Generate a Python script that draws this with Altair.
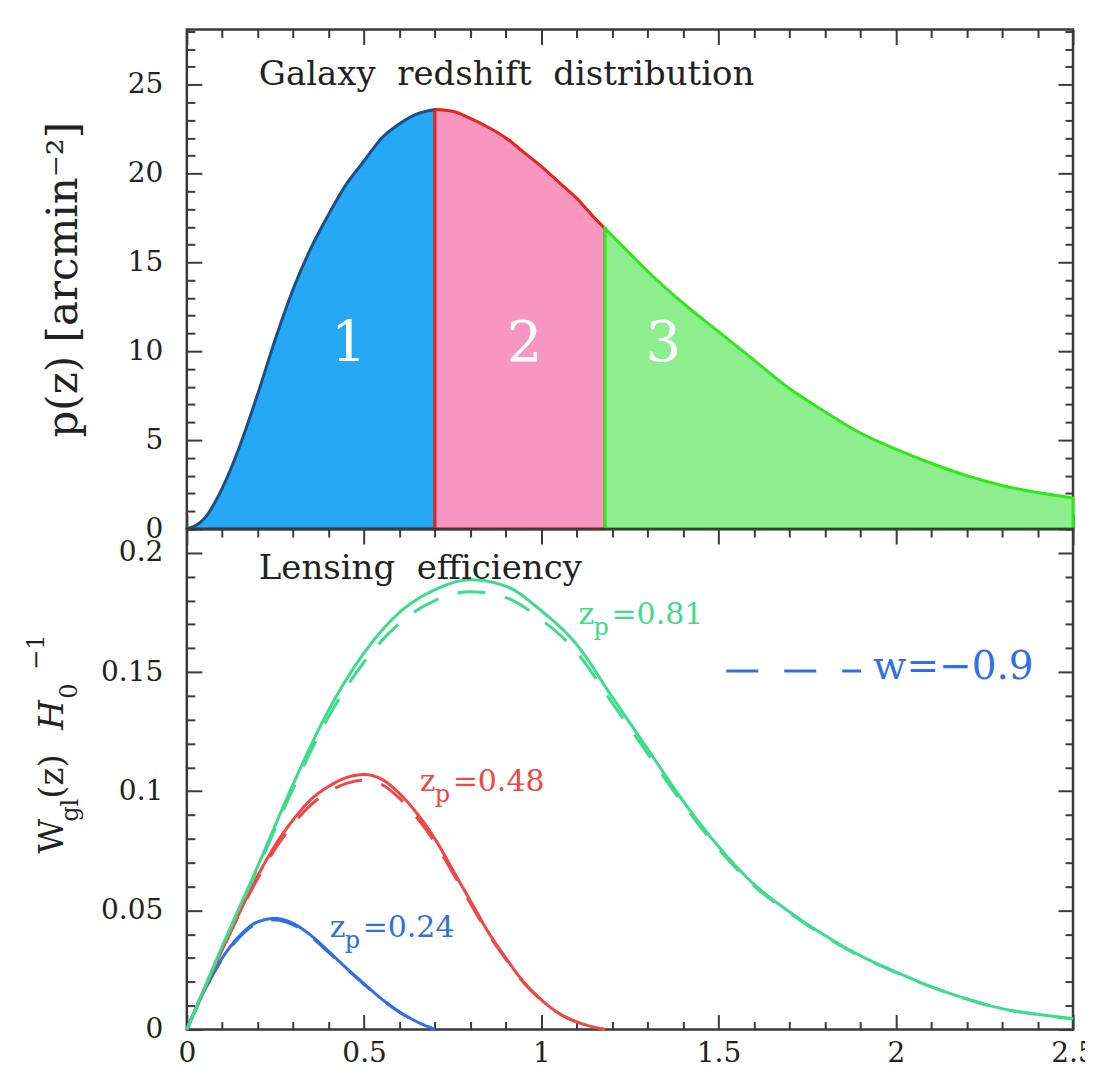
import altair as alt
import pandas as pd

# ---------------- data ----------------
# top panel: galaxy redshift distribution p(z)
z_top = [0, 0.05, 0.1, 0.15, 0.2, 0.25, 0.3, 0.35, 0.4, 0.45, 0.5, 0.55, 0.6, 0.65, 0.7,
         0.75, 0.8, 0.85, 0.9, 0.95, 1.0, 1.05, 1.1, 1.15, 1.18,
         1.25, 1.3, 1.4, 1.5, 1.6, 1.7, 1.8, 1.9, 2.0, 2.1, 2.2, 2.3, 2.4, 2.5]
p_top = [0, 0.6, 2.3, 4.7, 7.6, 10.7, 13.5, 15.8, 17.7, 19.4, 20.7, 22.0, 22.8, 23.35, 23.6,
         23.5, 23.1, 22.6, 22.0, 21.2, 20.4, 19.5, 18.6, 17.5, 16.9,
         15.5, 14.5, 12.7, 11.1, 9.5, 7.9, 6.6, 5.4, 4.5, 3.7, 3.0, 2.45, 2.05, 1.75]
bin_edges = [0.0, 0.7, 1.18, 2.5]
bin_names = ["1", "2", "3"]

# bottom panel: lensing efficiency
z_blue = [0, 0.05, 0.1, 0.15, 0.2, 0.25, 0.3, 0.35, 0.4, 0.45, 0.5, 0.55, 0.6, 0.65, 0.7]
w_blue_solid = [0, 0.0165, 0.0300, 0.0395, 0.0452, 0.0466, 0.0445, 0.0395, 0.0328, 0.0258,
                0.0192, 0.0128, 0.0074, 0.0032, 0.0]
w_blue_dash = [0, 0.0163, 0.0296, 0.0390, 0.0446, 0.0460, 0.0439, 0.0390, 0.0324, 0.0255,
               0.0190, 0.0127, 0.0073, 0.0032, 0.0]

z_red = [0, 0.05, 0.1, 0.15, 0.2, 0.25, 0.3, 0.35, 0.4, 0.45, 0.5, 0.55, 0.6, 0.65, 0.7,
         0.75, 0.8, 0.85, 0.9, 0.95, 1.0, 1.05, 1.1, 1.15, 1.18]
w_red_solid = [0, 0.0172, 0.0335, 0.0495, 0.0645, 0.0775, 0.0880, 0.0965, 0.1020, 0.1057,
               0.1070, 0.1050, 0.0990, 0.0905, 0.0800, 0.0670, 0.0540, 0.0410, 0.0300, 0.0200,
               0.0125, 0.0068, 0.0032, 0.0010, 0.0]
w_red_dash = [0, 0.0171, 0.0332, 0.0490, 0.0635, 0.0760, 0.0862, 0.0943, 0.0997, 0.1033,
              0.1046, 0.1028, 0.0970, 0.0887, 0.0785, 0.0658, 0.0530, 0.0403, 0.0295, 0.0197,
              0.0123, 0.0067, 0.0031, 0.0010, 0.0]

z_green = [0, 0.05, 0.1, 0.2, 0.3, 0.4, 0.5, 0.6, 0.7, 0.8, 0.9, 1.0, 1.1, 1.2, 1.3, 1.4,
           1.5, 1.6, 1.7, 1.8, 1.9, 2.0, 2.1, 2.2, 2.3, 2.4, 2.5]
w_green_solid = [0, 0.0175, 0.0350, 0.0685, 0.1030, 0.1340, 0.1580, 0.1750, 0.1845, 0.1887,
                 0.1860, 0.1757, 0.1615, 0.1395, 0.1177, 0.0959, 0.0768, 0.0610, 0.0494,
                 0.0395, 0.0310, 0.0242, 0.0180, 0.0129, 0.0088, 0.0064, 0.0046]
w_green_dash = [0, 0.0174, 0.0347, 0.0676, 0.1012, 0.1312, 0.1542, 0.1705, 0.1800, 0.1837,
                0.1812, 0.1720, 0.1583, 0.1370, 0.1158, 0.0946, 0.0758, 0.0603, 0.0489,
                0.0391, 0.0307, 0.0240, 0.0179, 0.0128, 0.0087, 0.0063, 0.0045]

series_names = ["0.24", "0.48", "0.81"]
zp_texts = ["=0.24", "=0.48", "=0.81"]
legend_text = "w=\u22120.9"

# tick values
X_MAJOR = [0, 0.5, 1, 1.5, 2, 2.5]
X_MINOR = [round(0.1 * i, 2) for i in range(26) if i % 5]
TOP_Y_MAJOR = [0, 5, 10, 15, 20, 25]
TOP_Y_MINOR = [i for i in range(29) if i % 5]
BOT_Y_MAJOR = [0, 0.05, 0.1, 0.15, 0.2]
BOT_Y_MINOR = [round(0.01 * i, 2) for i in range(22) if i % 5]

# ---------------- styling ----------------
SERIF = "DejaVu Serif"
INK = "#222222"
TICK = "#3a3a3a"
BLUE = "#326ee6"
RED = "#f04646"
GREEN = "#3cdc8c"
FILLS = ["#25a8f6", "#f797c1", "#8cee8c"]
STROKES = ["#1e4f80", "#e8241c", "#2ee81a"]
W_PLOT = 887
H_TOP = 500
H_BOT = 501

# ---------------- tables ----------------
rows = []
for i, name in enumerate(bin_names):
    lo, hi = bin_edges[i], bin_edges[i + 1]
    for z, p in zip(z_top, p_top):
        if lo - 1e-9 <= z <= hi + 1e-9:
            rows.append({"z": z, "p": p, "bin": name})
df_top = pd.DataFrame(rows)

lrows = []
for name, zs, ws, wd in [("0.24", z_blue, w_blue_solid, w_blue_dash),
                         ("0.48", z_red, w_red_solid, w_red_dash),
                         ("0.81", z_green, w_green_solid, w_green_dash)]:
    for z, a, b in zip(zs, ws, wd):
        lrows.append({"z": z, "W": a, "zp": name, "style": "solid"})
        lrows.append({"z": z, "W": b, "zp": name, "style": "dashed"})
df_bot = pd.DataFrame(lrows)


def axis(orient, values, size, labels=False, **kw):
    opts = dict(orient=orient, values=values, tickSize=size, offset=-size,
                labels=labels, domain=False, grid=False, ticks=True,
                tickColor=TICK, tickWidth=2)
    if labels:
        opts.update(labelFont=SERIF, labelFontSize=28, labelColor=INK,
                    labelFlush=False, labelOverlap=False, format="~g")
    if "title" not in kw:
        opts["title"] = None
    opts.update(kw)
    return alt.Axis(**opts)


def frame(df, xf, yf, xs, ys, ymaj, ymin, x_labels, ytitle_kw):
    base = alt.Chart(df).mark_point(opacity=0)
    return [
        base.encode(
            x=alt.X(xf, type="quantitative", scale=xs,
                    axis=axis("bottom", X_MAJOR, 15, labels=x_labels, labelPadding=10)),
            y=alt.Y(yf, type="quantitative", scale=ys,
                    axis=axis("left", ymaj, 15, labels=True, labelPadding=24, **ytitle_kw))),
        base.encode(
            x=alt.X(xf, type="quantitative", scale=xs, axis=axis("bottom", X_MINOR, 8)),
            y=alt.Y(yf, type="quantitative", scale=ys, axis=axis("left", ymin, 8))),
        base.encode(
            x=alt.X(xf, type="quantitative", scale=xs, axis=axis("top", X_MAJOR, 15)),
            y=alt.Y(yf, type="quantitative", scale=ys, axis=axis("right", ymaj, 15))),
        base.encode(
            x=alt.X(xf, type="quantitative", scale=xs, axis=axis("top", X_MINOR, 8)),
            y=alt.Y(yf, type="quantitative", scale=ys, axis=axis("right", ymin, 8))),
    ]


xs = alt.Scale(domain=[0, 2.5], nice=False, zero=False)

# ---------------- top panel ----------------
ys_top = alt.Scale(domain=[0, 28.1], nice=False)
area = alt.Chart(df_top).mark_area(strokeWidth=3, interpolate="monotone").encode(
    x=alt.X("z:Q", scale=xs, axis=None),
    y=alt.Y("p:Q", scale=ys_top, axis=None, stack=None),
    fill=alt.Fill("bin:N", scale=alt.Scale(domain=bin_names, range=FILLS), legend=None),
    stroke=alt.Stroke("bin:N", scale=alt.Scale(domain=bin_names, range=STROKES), legend=None),
)
region_lbl = pd.DataFrame({"t": bin_names, "z": [0.457, 0.953, 1.344], "p": [10.4, 10.4, 10.4]})
region_text = alt.Chart(region_lbl).mark_text(
    font=SERIF, fontSize=56, color="white", baseline="middle", align="center"
).encode(x=alt.X("z:Q", scale=xs, axis=None), y=alt.Y("p:Q", scale=ys_top, axis=None), text="t:N")
top_title = alt.Chart(pd.DataFrame({"t": ["Galaxy\u00a0 redshift\u00a0 distribution"]})).mark_text(
    font=SERIF, fontSize=34, color=INK, align="left", baseline="alphabetic"
).encode(x=alt.value(72), y=alt.value(56), text="t:N")

top = alt.layer(
    area, region_text, top_title,
    *frame(df_top, "z", "p", xs, ys_top, TOP_Y_MAJOR, TOP_Y_MINOR, False,
           dict(title="p(z) [arcmin\u207b\u00b2]", titleFont=SERIF, titleFontSize=42,
                titleFontWeight="normal", titleColor=INK, titlePadding=42)),
).resolve_axis(x="independent", y="independent").properties(width=W_PLOT, height=H_TOP)

# ---------------- bottom panel ----------------
ys_bot = alt.Scale(domain=[0, 0.21], nice=False)
lines = alt.Chart(df_bot).mark_line(strokeWidth=3, interpolate="monotone").encode(
    x=alt.X("z:Q", scale=xs, axis=None),
    y=alt.Y("W:Q", scale=ys_bot, axis=None),
    color=alt.Color("zp:N", scale=alt.Scale(domain=series_names, range=[BLUE, RED, GREEN]), legend=None),
    strokeDash=alt.StrokeDash("style:N", scale=alt.Scale(domain=["solid", "dashed"],
                                                         range=[[1, 0], [28, 20]]), legend=None),
    detail="style:N",
)

ann = pd.DataFrame({"zp": series_names, "t": zp_texts,
                    "z": [0.403, 0.657, 1.105], "W": [0.039, 0.100, 0.170]})
cscale = alt.Scale(domain=series_names, range=[BLUE, RED, GREEN])
ann_base = alt.Chart(ann)
enc = dict(x=alt.X("z:Q", scale=xs, axis=None), y=alt.Y("W:Q", scale=ys_bot, axis=None),
           color=alt.Color("zp:N", scale=cscale, legend=None))
lbl_z = ann_base.mark_text(font=SERIF, fontSize=30, align="left", baseline="alphabetic").encode(
    text=alt.value("z"), **enc)
lbl_p = ann_base.mark_text(font=SERIF, fontSize=24, align="left", baseline="alphabetic",
                           dx=15, dy=11).encode(text=alt.value("p"), **enc)
lbl_v = ann_base.mark_text(font=SERIF, fontSize=30, align="left", baseline="alphabetic",
                           dx=33).encode(text="t:N", **enc)

leg = pd.DataFrame({"z": [1.522], "z2": [1.902], "W": [0.1504], "zt": [1.936], "Wt": [0.147],
                    "t": [legend_text]})
leg_line = alt.Chart(leg).mark_rule(color=BLUE, strokeWidth=3, strokeDash=[32, 26]).encode(
    x=alt.X("z:Q", scale=xs, axis=None), x2="z2:Q", y=alt.Y("W:Q", scale=ys_bot, axis=None))
leg_text = alt.Chart(leg).mark_text(font=SERIF, fontSize=39, color=BLUE, align="left",
                                    baseline="alphabetic").encode(
    x=alt.X("zt:Q", scale=xs, axis=None), y=alt.Y("Wt:Q", scale=ys_bot, axis=None), text="t:N")

bot_title = alt.Chart(pd.DataFrame({"t": ["Lensing\u00a0 efficiency"]})).mark_text(
    font=SERIF, fontSize=34, color=INK, align="left", baseline="alphabetic"
).encode(x=alt.value(72), y=alt.value(50), text="t:N")

# rotated y title pieces: W_gl(z) H_0^-1
ttl = pd.DataFrame({
    "t": ["W", "gl", "(z)", "H", "0", "\u22121"],
    "x": [-124, -109, -124, -124, -110, -143],
    "y": [325, 293, 270, 201, 170, 141],
    "s": [34, 24, 34, 34, 24, 24],
    "st": ["normal", "normal", "normal", "italic", "normal", "normal"],
})
ytitle_layers = []
for _, r in ttl.iterrows():
    ytitle_layers.append(
        alt.Chart(pd.DataFrame({"t": [r.t]})).mark_text(
            font=SERIF, fontSize=int(r.s), fontStyle=r.st, color=INK, angle=270,
            align="left", baseline="alphabetic"
        ).encode(x=alt.value(int(r.x)), y=alt.value(int(r.y)), text="t:N")
    )

bottom = alt.layer(
    lines, lbl_z, lbl_p, lbl_v, leg_line, leg_text, bot_title, *ytitle_layers,
    *frame(df_bot, "z", "W", xs, ys_bot, BOT_Y_MAJOR, BOT_Y_MINOR, True, {}),
).resolve_axis(x="independent", y="independent").properties(width=W_PLOT, height=H_BOT)

chart = alt.vconcat(top, bottom, spacing=0, bounds="flush").properties(
    background="white", padding={"left": 15, "top": 18, "right": -12, "bottom": 0}
).configure_view(stroke="#3a3a3a", strokeWidth=2.5)

chart.save("out.html", embed_options={"renderer": "svg", "actions": False})
